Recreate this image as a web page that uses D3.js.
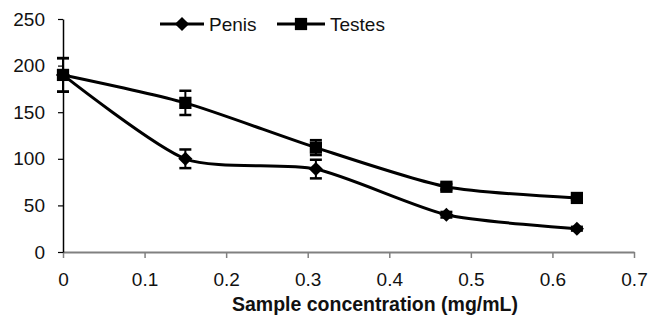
<!DOCTYPE html>
<html>
<head>
<meta charset="utf-8">
<script src="https://cdn.jsdelivr.net/npm/d3@7"></script>
<style>
  body { margin: 0; background: #fff; }
  text { font-family: "Liberation Sans", Arial, sans-serif; }
</style>
</head>
<body>
<div id="chart"></div>
<script>
// data
const concentrations = [0, 0.15, 0.31, 0.47, 0.63];
const penis = [190, 100, 89, 40, 25];
const penisErr = [18, 10, 10, 3, 2];
const testes = [190, 160, 112, 70, 58];
const testesErr = [18, 13, 8, 3, 2];
const xTicks = [0, 0.1, 0.2, 0.3, 0.4, 0.5, 0.6, 0.7];
const yTicks = [0, 50, 100, 150, 200, 250];

const width = 649, height = 317;

const svg = d3.select("#chart")
  .append("svg")
  .attr("width", width)
  .attr("height", height);

const x = d3.scaleLinear().domain([0, 0.7]).range([63, 634]);
const y = d3.scaleLinear().domain([0, 250]).range([252, 19]);

// X axis (grey)
const xAxis = svg.append("g")
  .attr("transform", "translate(0," + y(0) + ")")
  .call(d3.axisBottom(x).tickValues(xTicks).tickSize(6).tickSizeOuter(0)
    .tickFormat(d => d === 0 ? "0" : d3.format(".1f")(d)));
xAxis.select(".domain").attr("stroke", "#808080").attr("stroke-width", 2);
xAxis.selectAll(".tick line").attr("stroke", "#808080").attr("stroke-width", 1.5);
xAxis.selectAll(".tick text")
  .attr("y", 21)
  .attr("font-size", 19)
  .attr("fill", "#111");

// Y axis (black)
const yAxis = svg.append("g")
  .attr("transform", "translate(" + x(0) + ",0)")
  .call(d3.axisLeft(y).tickValues(yTicks).tickSize(5).tickSizeOuter(0));
yAxis.select(".domain").attr("stroke", "#000").attr("stroke-width", 1.5);
yAxis.selectAll(".tick line").attr("stroke", "#000").attr("stroke-width", 1.2);
yAxis.selectAll(".tick text")
  .attr("x", -18)
  .attr("font-size", 19)
  .attr("fill", "#111");
svg.selectAll(".domain").raise();

// axis title
svg.append("text")
  .attr("x", 375)
  .attr("y", 311)
  .attr("text-anchor", "middle")
  .attr("font-size", 19.5)
  .attr("font-weight", "bold")
  .attr("fill", "#111")
  .text("Sample concentration (mg/mL)");

// diamond = square turned 45 degrees
const markDiamond = d3.symbol().type(d3.symbolSquare).size(100)();
const markSquare = d3.symbol().type(d3.symbolSquare).size(150)();

const series = [
  { name: "Penis", values: penis, err: penisErr, mark: markDiamond, rot: 45 },
  { name: "Testes", values: testes, err: testesErr, mark: markSquare, rot: 0 }
];

const line = d3.line()
  .x(d => x(d[0]))
  .y(d => y(d[1]))
  .curve(d3.curveCardinal.tension(0.3));

series.forEach(s => {
  const pts = concentrations.map((c, i) => [c, s.values[i], s.err[i]]);
  const g = svg.append("g");

  g.append("path")
    .datum(pts)
    .attr("d", line)
    .attr("fill", "none")
    .attr("stroke", "#000")
    .attr("stroke-width", 3);

  // error bars
  const eb = g.selectAll(".err").data(pts).enter().append("g");
  eb.append("line")
    .attr("x1", d => x(d[0])).attr("x2", d => x(d[0]))
    .attr("y1", d => y(d[1] - d[2])).attr("y2", d => y(d[1] + d[2]))
    .attr("stroke", "#000").attr("stroke-width", 2);
  eb.selectAll(".cap").data(d => [[d[0], d[1] - d[2]], [d[0], d[1] + d[2]]])
    .enter().append("line")
    .attr("x1", d => x(d[0]) - 6).attr("x2", d => x(d[0]) + 6)
    .attr("y1", d => y(d[1])).attr("y2", d => y(d[1]))
    .attr("stroke", "#000").attr("stroke-width", 2.5);

  g.selectAll(".mark").data(pts).enter().append("path")
    .attr("d", s.mark)
    .attr("transform", d => "translate(" + x(d[0]) + "," + y(d[1]) + ") rotate(" + s.rot + ")")
    .attr("fill", "#000");
});

// legend
const legend = [
  { name: "Penis", mark: markDiamond, rot: 45, x0: 160, x1: 204 },
  { name: "Testes", mark: markSquare, rot: 0, x0: 277, x1: 325 }
];
legend.forEach(l => {
  const ly = 24;
  svg.append("line")
    .attr("x1", l.x0).attr("x2", l.x1)
    .attr("y1", ly).attr("y2", ly)
    .attr("stroke", "#000").attr("stroke-width", 3);
  svg.append("path")
    .attr("d", l.mark)
    .attr("transform", "translate(" + (l.x0 + l.x1) / 2 + "," + ly + ") rotate(" + l.rot + ")")
    .attr("fill", "#000");
  svg.append("text")
    .attr("x", l.x1 + 5)
    .attr("y", ly)
    .attr("dy", "0.35em")
    .attr("font-size", 19)
    .attr("fill", "#111")
    .text(l.name);
});
</script>
</body>
</html>
